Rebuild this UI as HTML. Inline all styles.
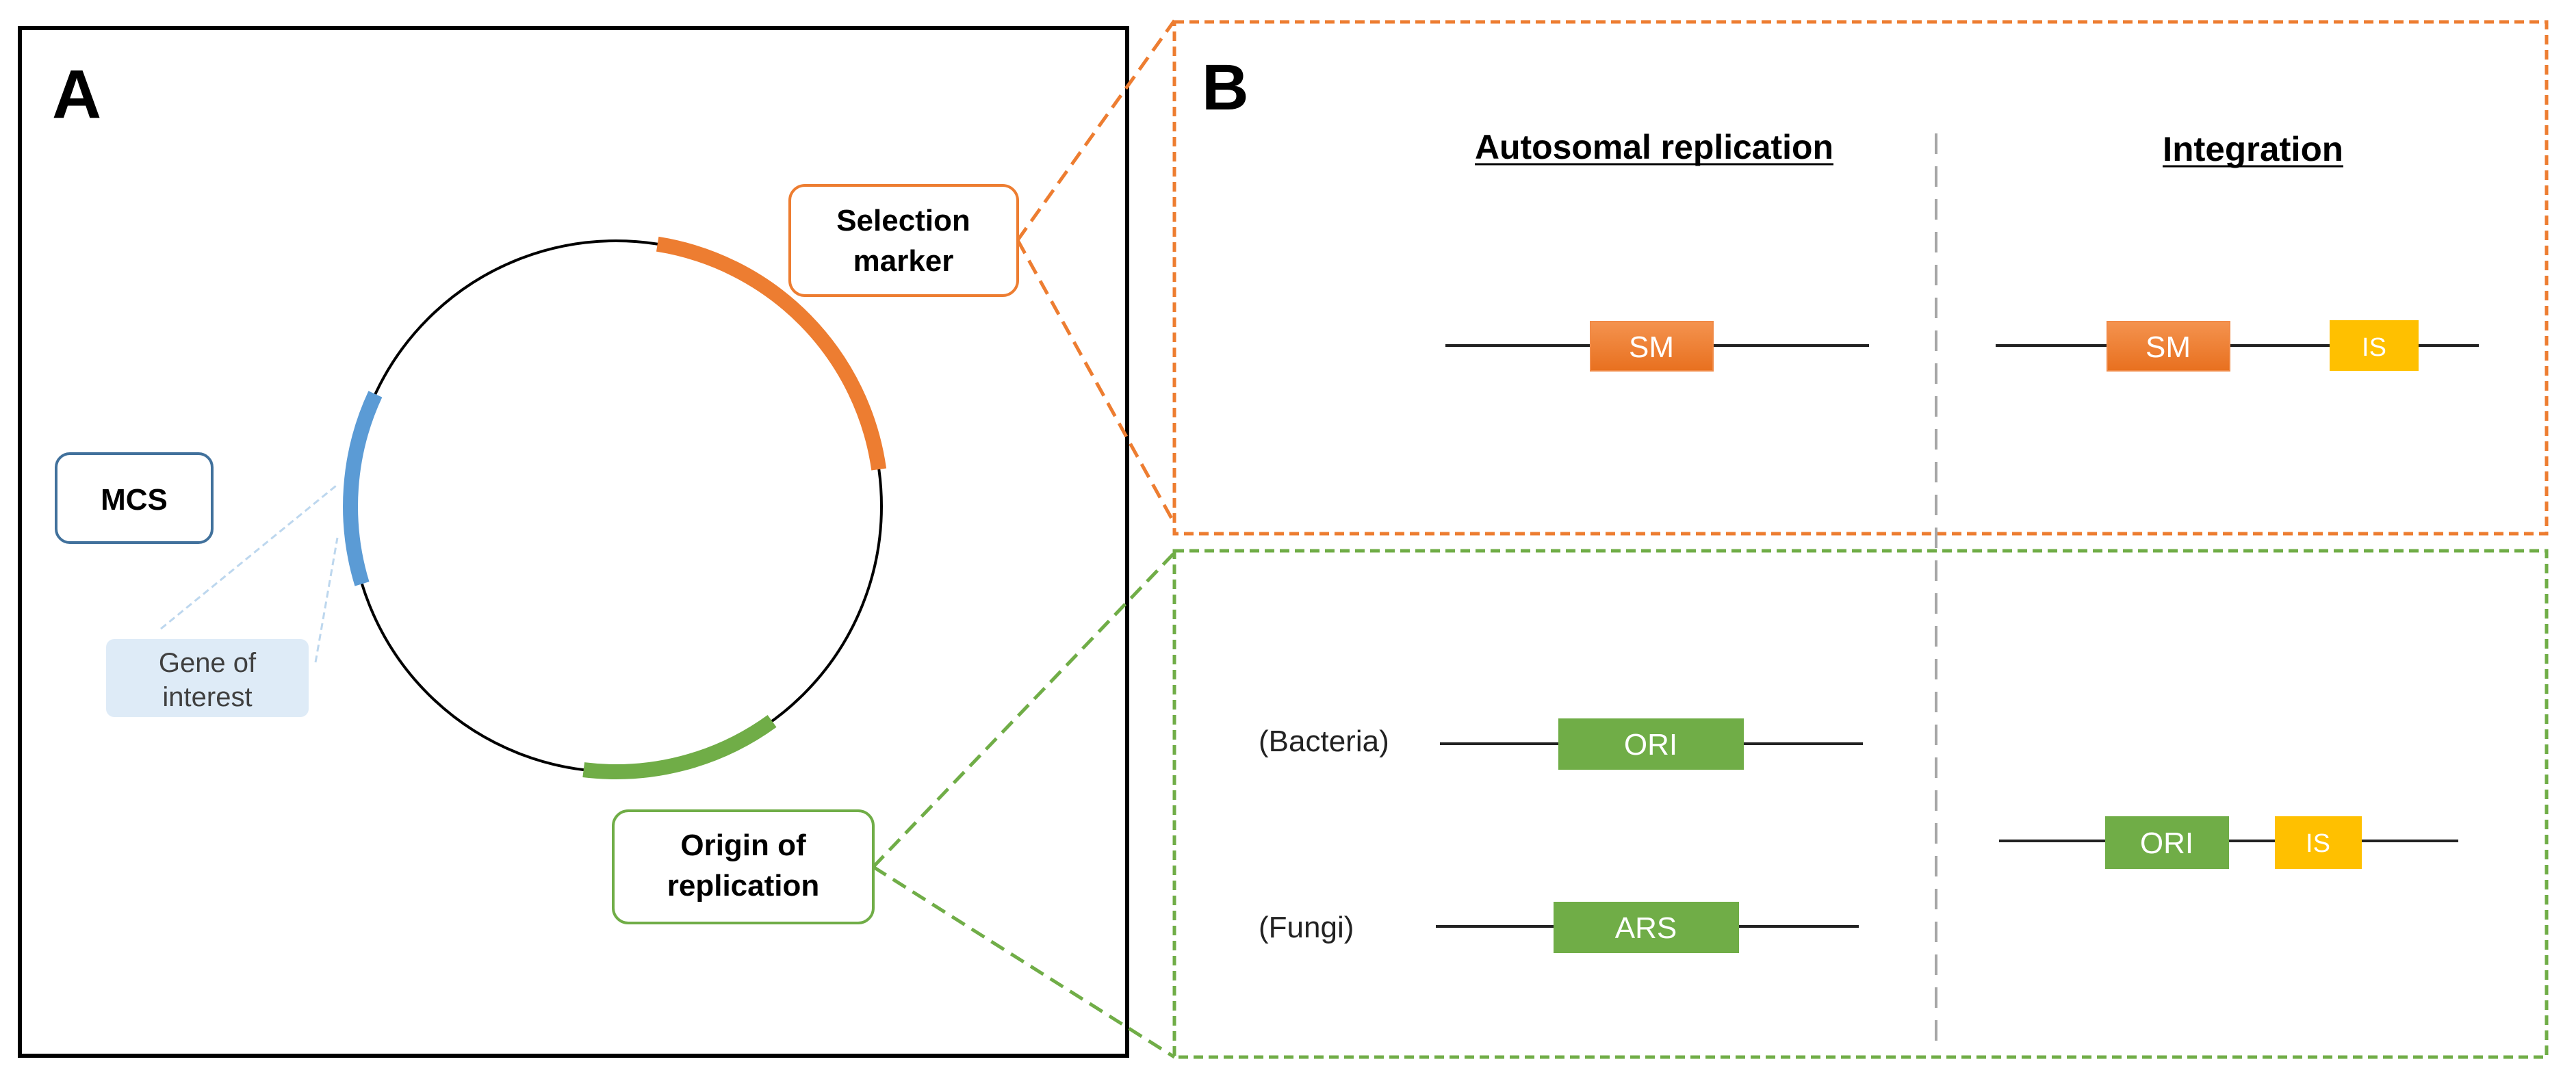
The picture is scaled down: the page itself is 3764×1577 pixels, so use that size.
<!DOCTYPE html>
<html><head><meta charset="utf-8"><style>
html,body{margin:0;padding:0;background:#fff;}
svg{display:block;}
text{font-family:"Liberation Sans",sans-serif;}
</style></head><body>
<svg width="3764" height="1577" viewBox="0 0 3764 1577" xmlns="http://www.w3.org/2000/svg">
<defs>
<linearGradient id="og" x1="0" y1="0" x2="0" y2="1"><stop offset="0" stop-color="#f4934f"/><stop offset="1" stop-color="#e8701f"/></linearGradient>
</defs>
<!-- Panel A -->
<rect x="29" y="41" width="1618" height="1502" fill="none" stroke="#000" stroke-width="6"/>
<text x="76" y="172" font-size="100" font-weight="bold">A</text>
<circle cx="900" cy="740" r="388" fill="none" stroke="#000" stroke-width="4"/>
<path d="M960.7 356.8 A388 388 0 0 1 1284.2 686" fill="none" stroke="#ed7d31" stroke-width="22"/>
<path d="M529 853.4 A388 388 0 0 1 548.4 576" fill="none" stroke="#5b9bd5" stroke-width="22"/>
<path d="M1128.1 1053.9 A388 388 0 0 1 852.7 1125.1" fill="none" stroke="#70ad47" stroke-width="22"/>
<!-- gene of interest dotted -->
<line x1="235" y1="919" x2="491" y2="710" stroke="#bdd7ee" stroke-width="3" stroke-dasharray="10,6"/>
<line x1="461" y1="968" x2="493" y2="786" stroke="#bdd7ee" stroke-width="3" stroke-dasharray="10,6"/>
<rect x="155" y="934" width="296" height="114" rx="12" fill="#deebf7"/>
<text x="303" y="982" font-size="40" fill="#404040" text-anchor="middle">Gene of</text>
<text x="303" y="1032" font-size="40" fill="#404040" text-anchor="middle">interest</text>
<rect x="82" y="663" width="228" height="130" rx="20" fill="#fff" stroke="#41719c" stroke-width="4"/>
<text x="196" y="745" font-size="44" font-weight="bold" text-anchor="middle">MCS</text>
<rect x="1154" y="271" width="333" height="161" rx="22" fill="#fff" stroke="#ed7d31" stroke-width="4"/>
<text x="1320" y="337" font-size="44" font-weight="bold" text-anchor="middle">Selection</text>
<text x="1320" y="396" font-size="44" font-weight="bold" text-anchor="middle">marker</text>
<rect x="896" y="1185" width="380" height="164" rx="22" fill="#fff" stroke="#70ad47" stroke-width="4"/>
<text x="1086" y="1250" font-size="44" font-weight="bold" text-anchor="middle">Origin of</text>
<text x="1086" y="1309" font-size="44" font-weight="bold" text-anchor="middle">replication</text>
<!-- connectors -->
<line x1="1487" y1="351" x2="1716" y2="30" stroke="#ed7d31" stroke-width="5" stroke-dasharray="22,12"/>
<line x1="1487" y1="351" x2="1716" y2="765" stroke="#ed7d31" stroke-width="5" stroke-dasharray="22,12"/>
<line x1="1276" y1="1267" x2="1716" y2="808" stroke="#70ad47" stroke-width="5" stroke-dasharray="22,12"/>
<line x1="1276" y1="1267" x2="1716" y2="1545" stroke="#70ad47" stroke-width="5" stroke-dasharray="22,12"/>
<!-- Panel B -->
<rect x="1716" y="32" width="2005" height="748" fill="none" stroke="#ed7d31" stroke-width="5" stroke-dasharray="14,8"/>
<rect x="1716" y="805" width="2005" height="740" fill="none" stroke="#70ad47" stroke-width="5" stroke-dasharray="14,8"/>
<line x1="2829" y1="195" x2="2829" y2="1535" stroke="#a6a6a6" stroke-width="4" stroke-dasharray="30,18"/>
<text x="1756" y="160" font-size="95" font-weight="bold">B</text>
<text x="2155" y="232" font-size="50" font-weight="bold" textLength="524" lengthAdjust="spacingAndGlyphs">Autosomal replication</text>
<line x1="2155" y1="240" x2="2679" y2="240" stroke="#000" stroke-width="3"/>
<text x="3160" y="235" font-size="50" font-weight="bold" textLength="264" lengthAdjust="spacingAndGlyphs">Integration</text>
<line x1="3160" y1="243" x2="3424" y2="243" stroke="#000" stroke-width="3"/>
<!-- SM rows -->
<line x1="2112" y1="505" x2="2731" y2="505" stroke="#222" stroke-width="4"/>
<rect x="2324" y="470" width="179" height="72" fill="url(#og)" stroke="#f08a47" stroke-width="2"/>
<text x="2413" y="522" font-size="44" fill="#fff" text-anchor="middle">SM</text>
<line x1="2916" y1="505" x2="3622" y2="505" stroke="#222" stroke-width="4"/>
<rect x="3079" y="470" width="179" height="72" fill="url(#og)" stroke="#f08a47" stroke-width="2"/>
<text x="3168" y="522" font-size="44" fill="#fff" text-anchor="middle">SM</text>
<rect x="3404" y="468" width="130" height="74" fill="#ffc000"/>
<text x="3469" y="520" font-size="38" fill="#fff" text-anchor="middle">IS</text>
<!-- ORI rows -->
<text x="1839" y="1098" font-size="44" fill="#222">(Bacteria)</text>
<line x1="2104" y1="1087" x2="2722" y2="1087" stroke="#222" stroke-width="4"/>
<rect x="2277" y="1050" width="271" height="75" fill="#70ad47"/>
<text x="2412" y="1103" font-size="44" fill="#fff" text-anchor="middle">ORI</text>
<text x="1839" y="1370" font-size="44" fill="#222">(Fungi)</text>
<line x1="2098" y1="1354" x2="2716" y2="1354" stroke="#222" stroke-width="4"/>
<rect x="2270" y="1318" width="271" height="75" fill="#70ad47"/>
<text x="2405" y="1371" font-size="44" fill="#fff" text-anchor="middle">ARS</text>
<line x1="2921" y1="1229" x2="3592" y2="1229" stroke="#222" stroke-width="4"/>
<rect x="3076" y="1193" width="181" height="77" fill="#70ad47"/>
<text x="3166" y="1247" font-size="44" fill="#fff" text-anchor="middle">ORI</text>
<rect x="3324" y="1193" width="127" height="77" fill="#ffc000"/>
<text x="3387" y="1245" font-size="38" fill="#fff" text-anchor="middle">IS</text>
</svg>
</body></html>
